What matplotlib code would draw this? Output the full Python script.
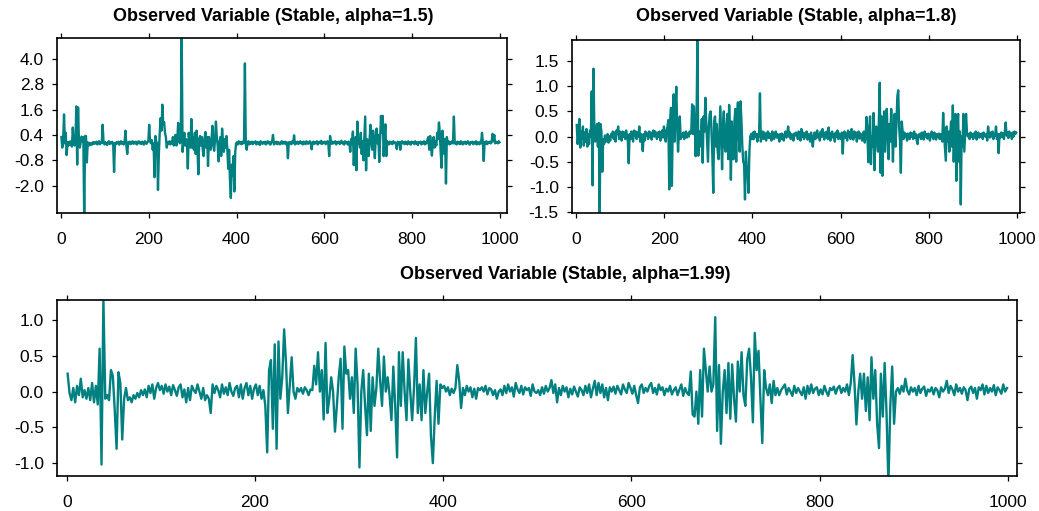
import numpy as np
import matplotlib
matplotlib.use("Agg")
import matplotlib.pyplot as plt

plt.rcParams['font.family'] = ['Liberation Sans', 'DejaVu Sans']
plt.rcParams['axes.unicode_minus'] = False

# time index (every second observation of 1..1000)
time_index = np.arange(1, 1000, 2)

# Observed variable, stable alpha = 1.5
obs_a15 = [
    0.3, -0.2, 0.1, 1.37, 0.0, 0.5, -0.55, 0.05, -0.1, 0.08,
    -0.05, 0.1, -0.15, 0.75, 0.0, -0.1, 0.05, 1.75, -1.0, 1.7,
    0.1, -0.2, 0.05, 0.32, 0.1, 0.3, -3.6, 0.35, 0.35, -0.9,
    0.05, -0.1, 0.02, -0.08, 0.0, -0.05, 0.06, -0.03, 0.05, 0.0,
    0.08, -0.05, 0.03, 0.1, -0.04, 0.05, 0.02, 0.88, 0.05, -0.05,
    0.06, 0.0, -0.08, 0.04, 0.1, -0.03, 0.05, 0.0, 0.07, -0.05,
    -1.35, 0.02, -0.05, 0.06, 0.0, 0.08, -0.06, 0.04, 0.1, -0.02,
    0.05, -0.05, 0.08, 0.6, -0.1, -0.5, 0.05, 0.0, 0.08, -0.04,
    0.05, 0.1, -0.02, 0.06, 0.0, 0.08, -0.05, 0.03, 0.1, 0.0,
    0.05, -0.03, 0.08, 0.02, -0.06, 0.1, 0.04, -0.02, 0.06, 0.1,
    0.88, 0.1, 0.0, 0.15, -0.3, 0.0, -1.6, 0.35, 0.1, 0.0,
    -2.2, -0.5, 0.5, 1.19, 0.6, 1.83, 0.9, 1.0, 0.5, 0.3,
    -0.2, 0.05, 0.0, 0.1, -0.05, 0.08, 0.0, 0.3, -0.1, 0.2,
    0.4, -0.1, 0.2, 0.97, 0.1, 0.0, 0.3, 5.3, -0.4, 0.1,
    0.5, -0.1, 0.2, 0.0, -1.19, 0.5, 0.1, -0.2, 1.15, -0.2,
    0.3, -0.3, 0.5, -0.5, 0.6, -0.3, -1.46, 0.2, 0.35, -0.1,
    0.3, -0.3, -0.6, 0.2, 0.54, -0.2, 0.3, -1.07, 0.3, -0.1,
    -0.3, 0.2, 0.83, -0.1, -0.35, 0.2, 1.03, 0.3, -0.1, -0.85,
    0.0, 0.3, -0.6, 0.7, 0.1, -0.4, 0.2, -0.2, 0.35, -0.3,
    -1.2, -0.3, -1.76, -2.58, -1.0, -1.5, -0.6, -2.27, -0.4, 0.0,
    0.05, -0.05, 0.1, 0.0, 0.06, -0.04, 0.08, 0.0, 0.05, 3.78,
    0.0, -0.3, 0.05, 0.1, -0.05, 0.06, 0.0, 0.08, -0.04, 0.05,
    0.02, 0.1, -0.05, 0.06, 0.0, 0.05, -0.08, 0.1, 0.03, -0.02,
    0.06, 0.0, 0.08, -0.05, 0.04, 0.1, 0.0, 0.06, -0.06, 0.05,
    0.1, 0.4, -0.05, 0.05, 0.0, 0.08, -0.04, 0.06, 0.02, -0.05,
    0.05, 0.1, -0.02, 0.06, 0.0, 0.08, -0.05, 0.04, -0.7, 0.05,
    0.0, 0.06, -0.04, 0.1, 0.02, 0.38, -0.05, 0.06, 0.0, 0.08,
    -0.03, 0.05, 0.1, 0.0, 0.06, -0.05, 0.08, 0.02, -0.04, 0.1,
    0.04, -0.02, 0.06, 0.1, 0.0, -0.28, 0.05, 0.08, -0.02, 0.06,
    0.0, 0.1, -0.05, 0.05, 0.08, 0.0, 0.12, -0.03, 0.06, 0.02,
    0.08, -0.04, 0.05, 0.1, 0.0, -0.6, 0.35, 0.05, -0.02, 0.08,
    0.0, 0.06, 0.1, -0.05, 0.05, 0.02, 0.08, -0.03, 0.06, 0.12,
    0.0, 0.05, -0.06, 0.1, 0.02, 0.06, -0.05, 0.08, 0.0, -0.4,
    0.2, 0.0, 0.56, -1.03, 0.0, 0.3, -1.27, 1.03, 0.0, 0.2,
    -0.2, 0.5, -0.5, 0.1, -0.8, 0.3, 1.27, -1.27, 0.2, 0.0,
    -0.6, 0.2, 0.88, 0.1, -0.3, 0.6, 0.0, -0.7, 0.3, 0.7,
    0.0, 0.4, -0.88, 0.2, 1.3, 0.5, 1.3, -0.6, 0.3, 0.9,
    -0.6, 0.1, 0.05, -0.05, 0.08, 0.0, 0.06, -0.04, 0.1, 0.02,
    0.05, -0.05, -0.27, 0.08, 0.0, 0.06, -0.3, 0.05, 0.1, 0.0,
    0.06, -0.04, 0.08, 0.02, -0.05, 0.1, 0.0, 0.05, -0.06, 0.08,
    0.02, 0.06, -0.04, 0.1, 0.0, 0.05, -0.08, 0.06, 0.02, 0.08,
    -0.05, 0.06, 0.0, 0.1, -0.05, 0.05, 0.0, 0.2, 0.3, -0.3,
    0.35, -0.1, -0.58, 0.1, 0.3, -0.2, 0.1, -0.1, 0.5, 0.2,
    0.99, 0.5, -0.45, -1.15, 0.6, 0.1, -0.5, 0.2, -1.9, 0.3,
    0.0, 0.1, -0.05, 0.05, 0.0, 0.1, 0.0, 1.27, 0.0, 0.05,
    -0.05, 0.08, 0.0, 0.06, -0.04, 0.1, 0.02, -0.05, 0.06, 0.0,
    0.08, -0.03, 0.05, 0.1, 0.0, -0.06, 0.06, 0.02, 0.08, -0.04,
    0.05, 0.0, 0.1, -0.05, 0.06, 0.02, -0.04, 0.08, 0.0, 0.5,
    0.05, -0.83, 0.06, 0.0, 0.1, -0.04, 0.05, 0.02, 0.08, 0.0,
    0.06, 0.45, 0.1, 0.4, 0.0, 0.08, 0.05, 0.0, 0.1, 0.05,
]

# Observed variable, stable alpha = 1.8
obs_a18 = [
    0.23, -0.15, 0.05, 0.35, -0.22, 0.1, -0.05, 0.2, -0.18, 0.08,
    -0.1, 0.15, -0.2, 0.05, -0.15, 0.12, 0.0, 0.9, -0.97, 1.35,
    0.1, -0.1, 0.05, 0.25, -0.2, 0.27, -1.55, 0.25, 0.1, -0.7,
    -0.05, -0.15, 0.02, -0.1, -0.05, 0.05, -0.12, 0.0, -0.08, 0.05,
    0.0, 0.1, -0.05, 0.08, -0.1, 0.12, 0.05, 0.2, -0.05, 0.1,
    0.02, -0.08, 0.1, 0.0, 0.08, -0.05, 0.12, 0.03, -0.1, -0.53,
    0.05, -0.05, 0.1, 0.0, -0.1, 0.12, 0.02, 0.1, -0.05, 0.08,
    0.0, 0.2, -0.1, 0.05, -0.1, -0.29, 0.05, -0.08, 0.1, 0.02,
    0.06, -0.05, 0.1, 0.0, 0.08, -0.06, 0.05, 0.12, 0.0, 0.1,
    0.02, -0.05, 0.08, 0.0, 0.1, -0.08, 0.05, 0.12, -0.02, 0.2,
    0.05, -0.1, 0.1, 0.2, 0.33, -1.05, 0.3, 0.57, -0.98, 0.25,
    0.84, -0.1, 0.5, 0.99, 0.2, -0.3, 0.1, 0.4, -0.05, 0.05,
    0.0, 0.08, -0.05, 0.05, 0.1, -0.02, 0.06, 0.0, 0.1, 0.05,
    0.1, 0.64, 0.05, 0.6, 0.2, -0.39, 0.3, 1.95, -0.38, 0.1,
    -0.2, 0.0, 0.35, -0.52, 0.4, 0.1, 0.77, 0.3, -0.1, -0.5,
    0.2, 0.45, 0.5, 0.1, -0.4, -1.12, 0.3, 0.4, -0.2, 0.25,
    -0.3, -0.45, 0.1, 0.6, 0.0, -0.65, 0.2, 0.5, -0.2, -0.3,
    0.2, 0.45, -0.45, 0.63, 0.1, -0.86, 0.3, -0.2, -0.45, 0.3,
    0.55, -0.5, 0.4, 0.68, 0.0, -0.3, 0.7, 0.3, -0.2, -0.5,
    -0.55, -1.25, -0.3, -0.6, -0.75, -1.12, -0.3, 0.0, 0.05, -0.05,
    0.08, -0.05, 0.1, 0.0, 0.05, -0.1, 0.05, 0.0, 0.86, -0.1,
    0.05, 0.1, -0.05, 0.08, 0.0, -0.08, 0.05, 0.1, -0.03, 0.06,
    0.0, -0.08, 0.1, 0.03, -0.05, 0.06, 0.1, -0.02, 0.05, 0.0,
    -0.1, 0.05, -0.05, 0.06, 0.0, -0.08, 0.04, 0.1, -0.02, 0.05,
    0.2, 0.0, 0.08, -0.05, 0.05, 0.0, -0.08, 0.06, 0.02, 0.08,
    0.05, -0.05, 0.1, 0.02, -0.08, 0.15, 0.0, 0.08, -0.05, 0.06,
    0.0, 0.1, -0.06, 0.05, 0.02, -0.1, 0.08, -0.05, -0.2, 0.0,
    0.08, -0.05, 0.06, 0.12, -0.02, 0.05, -0.08, 0.1, 0.0, 0.15,
    0.02, -0.06, 0.08, 0.0, 0.1, -0.05, 0.18, 0.0, -0.08, 0.06,
    0.1, -0.02, 0.05, -0.1, 0.08, 0.0, 0.12, -0.05, 0.06, 0.02,
    -0.05, 0.08, -0.34, 0.05, 0.1, -0.02, 0.06, -0.08, 0.12, 0.0,
    0.08, -0.05, 0.15, 0.02, -0.06, 0.1, 0.0, 0.08, -0.1, 0.05,
    0.1, -0.04, 0.06, 0.0, -0.08, 0.05, 0.1, -0.12, 0.0, 0.39,
    0.1, -0.51, 0.1, 0.4, -0.55, 0.0, -0.2, 0.47, -0.67, 0.1,
    0.2, -0.1, -0.3, 0.3, 1.07, -0.72, 0.4, -0.78, 0.1, 0.5,
    -0.3, 0.2, 0.55, 0.0, -0.45, 0.25, -0.1, 0.55, 0.1, -0.5,
    0.2, 0.45, -0.2, 0.3, 0.8, 0.92, 0.2, -0.1, -0.72, 0.3,
    0.1, -0.05, 0.08, 0.0, 0.05, -0.08, 0.06, 0.02, -0.05, 0.08,
    0.0, 0.06, -0.05, 0.1, -0.02, 0.05, -0.08, -0.15, 0.04, 0.0,
    0.06, -0.05, 0.08, 0.02, -0.06, 0.1, 0.0, 0.05, -0.04, 0.06,
    0.02, -0.08, 0.05, 0.1, 0.0, -0.05, 0.08, 0.03, -0.06, 0.05,
    0.0, 0.06, -0.05, 0.05, 0.0, -0.1, 0.47, 0.05, -0.2, -0.48,
    0.2, -0.1, 0.1, -0.3, 0.05, 0.3, -0.2, 0.62, -0.5, 0.1,
    0.45, -0.88, 0.2, 0.45, -0.5, 0.1, -1.35, 0.0, -0.2, 0.45,
    -0.3, 0.1, 0.45, 0.1, 0.0, 0.05, -0.05, 0.08, 0.0, 0.05,
    -0.05, 0.06, 0.0, 0.1, -0.06, 0.04, 0.08, -0.02, 0.05, 0.0,
    0.06, -0.05, 0.08, 0.02, 0.0, 0.05, -0.08, 0.2, 0.05, -0.02,
    0.08, 0.0, 0.1, -0.05, 0.05, 0.02, 0.2, -0.05, 0.05, -0.33,
    0.05, -0.02, 0.08, 0.0, 0.06, -0.05, 0.1, 0.28, 0.02, 0.08,
    -0.03, 0.1, 0.02, 0.06, -0.05, 0.08, 0.0, 0.1, 0.05, 0.08,
]

# Observed variable, stable alpha = 1.99
obs_a199 = [
    0.25, -0.02, -0.12, 0.05, -0.15, 0.08, -0.05, 0.18, -0.08, 0.02,
    -0.1, 0.05, -0.12, 0.12, -0.15, 0.08, -0.18, 0.6, -1.02, 1.3,
    -0.1, -0.05, -0.12, 0.3, 0.22, -0.25, -0.8, 0.27, 0.12, -0.67,
    -0.1, 0.05, -0.12, -0.08, -0.15, -0.05, -0.1, -0.02, -0.08, 0.02,
    -0.05, 0.03, -0.08, 0.08, -0.02, 0.1, -0.1, 0.05, 0.12, 0.02,
    0.08, -0.03, 0.1, 0.0, 0.07, -0.05, 0.09, 0.02, -0.06, 0.06,
    0.1, -0.08, 0.03, -0.15, 0.05, -0.12, 0.08, 0.02, -0.02, 0.1,
    0.0, -0.1, 0.05, -0.12, -0.05, -0.1, -0.3, 0.1, -0.02, 0.08,
    0.02, -0.08, 0.1, -0.03, 0.06, -0.05, 0.12, 0.0, -0.06, 0.05,
    0.08, -0.08, 0.1, -0.1, 0.05, 0.12, -0.05, 0.08, -0.1, 0.04,
    0.1, -0.05, 0.08, -0.1, 0.02, -0.2, -0.85, 0.3, 0.44, -0.52,
    0.66, -0.8, 0.7, -0.1, 0.2, 0.87, 0.4, -0.3, 0.1, 0.48,
    0.0, -0.1, 0.05, 0.0, 0.05, -0.03, 0.06, 0.02, -0.05, 0.03,
    0.02, 0.36, 0.1, 0.55, 0.0, 0.3, -0.39, 0.68, -0.3, -0.1,
    0.2, 0.0, -0.56, -0.2, 0.2, 0.46, -0.52, 0.63, 0.25, 0.3,
    -0.1, 0.2, -0.3, 0.6, 0.1, -1.06, 0.0, 0.3, -0.2, -0.61,
    0.25, -0.55, 0.2, -0.2, 0.05, 0.6, 0.15, -0.2, 0.49, 0.0,
    0.2, -0.05, -0.4, 0.35, -0.2, -0.92, 0.55, -0.2, 0.55, 0.0,
    -0.4, 0.45, 0.0, -0.4, 0.05, 0.75, -0.3, 0.1, -0.4, 0.3,
    -0.3, 0.0, 0.25, -0.62, -1.0, -0.35, 0.15, -0.45, 0.1, 0.05,
    0.08, 0.0, 0.06, -0.05, 0.04, -0.02, 0.05, 0.37, 0.15, -0.23,
    0.05, -0.05, 0.08, 0.0, 0.06, -0.08, 0.04, -0.1, 0.05, 0.02,
    0.06, 0.0, 0.08, -0.04, 0.05, 0.03, -0.05, 0.02, -0.1, 0.0,
    0.03, -0.05, 0.08, -0.02, 0.1, 0.0, 0.06, -0.07, 0.12, 0.03,
    -0.02, 0.08, -0.04, 0.06, 0.02, 0.05, -0.06, 0.1, 0.0, -0.02,
    0.02, -0.05, 0.06, -0.03, 0.08, 0.0, 0.05, 0.16, -0.02, 0.1,
    -0.15, 0.05, -0.05, 0.08, 0.0, 0.06, -0.08, 0.04, -0.04, 0.07,
    0.0, -0.07, 0.06, 0.02, -0.05, 0.08, -0.02, 0.1, -0.08, 0.04,
    0.15, -0.05, 0.12, -0.02, 0.1, -0.08, 0.05, -0.12, 0.06, 0.0,
    0.07, -0.03, 0.08, 0.02, -0.04, 0.1, 0.03, -0.02, 0.12, 0.05,
    -0.03, 0.08, -0.05, -0.16, 0.06, 0.1, -0.02, 0.05, 0.0, 0.08,
    0.12, -0.02, 0.05, -0.04, 0.1, 0.02, 0.06, -0.05, 0.04, 0.0,
    0.08, -0.04, 0.02, 0.06, -0.05, 0.03, 0.1, -0.06, 0.05, -0.02,
    -0.05, 0.28, -0.32, -0.35, 0.0, -0.45, 0.3, -0.35, 0.6, 0.3,
    0.0, 0.35, 0.0, 0.1, 1.04, -0.55, 0.37, -0.73, 0.0, 0.3,
    -0.3, 0.4, -0.38, 0.38, -0.1, -0.42, 0.42, 0.0, 0.55, -0.05,
    -0.2, 0.45, 0.6, 0.2, -0.43, 0.82, 0.3, 0.57, -0.1, -0.72,
    0.3, 0.05, -0.05, 0.1, -0.16, 0.15, -0.05, 0.05, -0.05, 0.02,
    0.06, 0.1, -0.04, 0.05, 0.0, -0.06, 0.08, -0.02, 0.05, 0.0,
    -0.05, 0.06, -0.1, 0.08, -0.03, 0.1, -0.02, 0.04, 0.06, -0.05,
    0.03, -0.04, 0.08, 0.0, -0.06, 0.05, 0.02, 0.07, -0.03, 0.05,
    0.08, -0.02, 0.05, 0.0, 0.1, -0.05, 0.12, 0.51, 0.1, -0.46,
    0.0, 0.25, -0.1, 0.25, -0.27, 0.2, -0.4, 0.48, -0.1, 0.3,
    -0.45, -0.79, 0.25, -0.35, 0.4, -0.3, -1.3, -0.2, 0.35, -0.45,
    0.0, 0.05, -0.03, 0.08, 0.0, 0.18, 0.02, -0.04, 0.06, 0.0,
    0.05, -0.05, 0.08, -0.02, 0.04, 0.07, -0.06, 0.03, 0.0, 0.06,
    -0.04, 0.05, 0.02, -0.08, 0.06, 0.0, 0.04, 0.15, -0.02, 0.08,
    0.03, -0.05, 0.1, 0.0, 0.05, -0.03, 0.06, 0.02, -0.12, 0.04,
    0.07, -0.02, 0.05, -0.1, 0.06, 0.02, 0.1, -0.04, 0.08, -0.02,
    0.05, 0.0, 0.09, -0.05, 0.06, 0.02, -0.03, 0.1, 0.0, 0.05,
]

titles = [
    "Observed Variable (Stable, alpha=1.5)",
    "Observed Variable (Stable, alpha=1.8)",
    "Observed Variable (Stable, alpha=1.99)",
]
x_ticks = [0, 200, 400, 600, 800, 1000]
y_ticks_a15 = [-2.0, -0.8, 0.4, 1.6, 2.8, 4.0]
y_ticks_a18 = [-1.5, -1.0, -0.5, 0.0, 0.5, 1.0, 1.5]
y_ticks_a199 = [-1.0, -0.5, 0.0, 0.5, 1.0]

LINE_COLOR = "#008080"
W, H = 1039, 511

fig = plt.figure(figsize=(W / 100, H / 100), dpi=100)


def px_rect(left, top, right, bottom):
    return [left / W, 1 - bottom / H, (right - left) / W, (bottom - top) / H]


panels = [
    dict(rect=px_rect(57, 38, 507, 213), y=obs_a15, yticks=y_ticks_a15,
         xlim=(-9, 1016), ylim=(-3.29, 4.98), title=titles[0], tx=273, ty=21),
    dict(rect=px_rect(572, 40, 1020, 213), y=obs_a18, yticks=y_ticks_a18,
         xlim=(-9.8, 1007.5), ylim=(-1.52, 1.92), title=titles[1], tx=796, ty=21),
    dict(rect=px_rect(57, 300, 1017, 476), y=obs_a199, yticks=y_ticks_a199,
         xlim=(-10.3, 1009.6), ylim=(-1.18, 1.28), title=titles[2], tx=565, ty=279),
]

for p in panels:
    ax = fig.add_axes(p["rect"])
    ax.plot(time_index, p["y"], color=LINE_COLOR, linewidth=1.7)
    ax.set_xlim(*p["xlim"])
    ax.set_ylim(*p["ylim"])
    ax.set_xticks(x_ticks)
    ax.set_xticklabels([str(v) for v in x_ticks])
    ax.set_yticks(p["yticks"])
    ax.set_yticklabels([f"{v:.1f}" for v in p["yticks"]])
    ax.tick_params(axis="both", direction="out", length=3.5, width=0.9,
                   top=True, right=True, labeltop=False, labelright=False,
                   labelsize=12.5, colors="black")
    ax.tick_params(axis="y", pad=6)
    ax.tick_params(axis="x", pad=10)
    for s in ax.spines.values():
        s.set_linewidth(1.2)
        s.set_color("black")
    fig.text(p["tx"] / W, 1 - p["ty"] / H, p["title"], ha="center",
             va="baseline", fontsize=13, fontweight="bold")

fig.savefig("out.png", dpi=100)
